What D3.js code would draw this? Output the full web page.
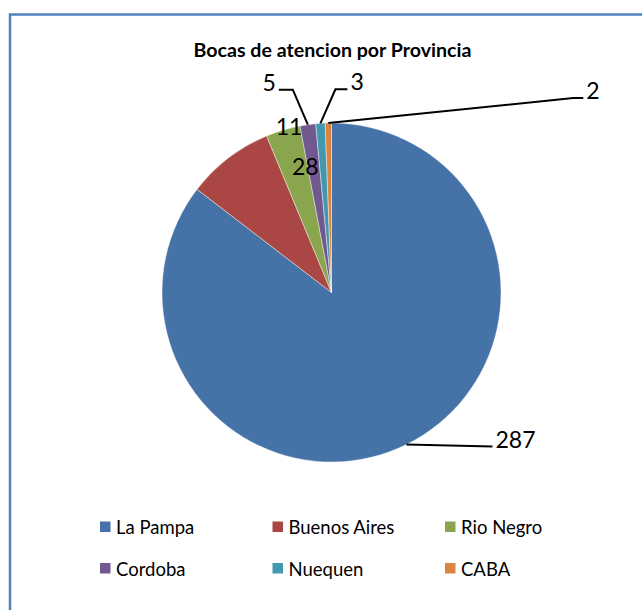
<!DOCTYPE html>
<html lang="en">
<head>
    <meta charset="UTF-8">
    <title>Bocas de atencion por Provincia</title>
    <script src="https://d3js.org/d3.v7.min.js"></script>
    <style>
        body { margin: 0; background: #fff; }
        text { font-family: Lato, "Open Sans", sans-serif; fill: #000; }
        .title { font-weight: bold; font-size: 19.6px; }
        .value { font-size: 23px; }
        .legend text { font-size: 18.5px; }
        .leader { stroke: #000; stroke-width: 2; fill: none; }
    </style>
</head>
<body>

<script>

    // Data
    const provincias = ['La Pampa', 'Buenos Aires', 'Rio Negro', 'Cordoba', 'Nuequen', 'CABA'];
    const bocas = [287, 28, 11, 5, 3, 2];
    const colores = ['#4572A7', '#AA4643', '#89A54E', '#71588F', '#4198AF', '#DB843D'];

    // Label placement, relative to the edge point of each slice
    // line: [elbow dx, elbow dy, tail]; text: [dx, dy] when no leader line
    const labelLayout = [
        { line: [86, 2, 0] },
        { text: [77, 17] },
        { text: [6, 5] },
        { line: [-15, -35, -14] },
        { line: [15, -34, 12] },
        { line: [245, -25, 10] }
    ];

    const width = 642;
    const height = 610;
    const cx = 331.5;
    const cy = 292.5;
    const radius = 169.5;

    const svg = d3.select('body').append('svg')
        .attr('width', width)
        .attr('height', height);

    // Chart area border
    svg.append('rect')
        .attr('x', 10)
        .attr('y', 14.5)
        .attr('width', width + 20)
        .attr('height', height + 20)
        .attr('fill', 'none')
        .attr('stroke', '#4F81BD')
        .attr('stroke-width', 2.5);

    svg.append('text')
        .attr('class', 'title')
        .attr('x', 332.5)
        .attr('y', 56.5)
        .attr('text-anchor', 'middle')
        .text('Bocas de atencion por Provincia');

    const color = d3.scaleOrdinal().domain(provincias).range(colores);

    const pie = d3.pie().sort(null).value(d => d.value);
    const arcs = pie(provincias.map((p, i) => ({ name: p, value: bocas[i] })));
    const arc = d3.arc().innerRadius(0).outerRadius(radius);

    const g = svg.append('g').attr('transform', `translate(${cx},${cy})`);

    g.selectAll('path')
        .data(arcs)
        .enter().append('path')
        .attr('d', arc)
        .attr('fill', d => color(d.data.name))
        .attr('stroke', '#fff')
        .attr('stroke-width', 0.6)
        .attr('stroke-opacity', 0.7);

    // Data labels
    arcs.forEach((d, i) => {
        const mid = (d.startAngle + d.endAngle) / 2;
        const ex = radius * Math.sin(mid);
        const ey = -radius * Math.cos(mid);
        const lay = labelLayout[i];

        if (lay.line) {
            const [dx, dy, tail] = lay.line;
            const bx = ex + dx, by = ey + dy;
            const tx = bx + tail;
            g.append('path')
                .attr('class', 'leader')
                .attr('d', d3.line()([[ex, ey], [bx, by], [tx, by]]));
            const left = tail < 0 || (tail === 0 && dx < 0);
            g.append('text')
                .attr('class', 'value')
                .attr('x', tx + (left ? -3 : 3))
                .attr('y', by + 1)
                .attr('text-anchor', left ? 'end' : 'start')
                .text(d.data.value);
        } else {
            g.append('text')
                .attr('class', 'value')
                .attr('x', ex + lay.text[0])
                .attr('y', ey + lay.text[1])
                .attr('text-anchor', 'middle')
                .text(d.data.value);
        }
    });

    // Legend: 3 columns, 2 rows
    const legend = svg.append('g').attr('class', 'legend');
    const item = legend.selectAll('g')
        .data(provincias)
        .enter().append('g')
        .attr('transform', (d, i) => `translate(${100 + (i % 3) * 172.5},${521.5 + Math.floor(i / 3) * 41.5})`);

    item.append('rect')
        .attr('width', 10.5)
        .attr('height', 10.5)
        .attr('fill', d => color(d));

    item.append('text')
        .attr('x', 16)
        .attr('y', 12.5)
        .text(d => d);

</script>

</body>
</html>
